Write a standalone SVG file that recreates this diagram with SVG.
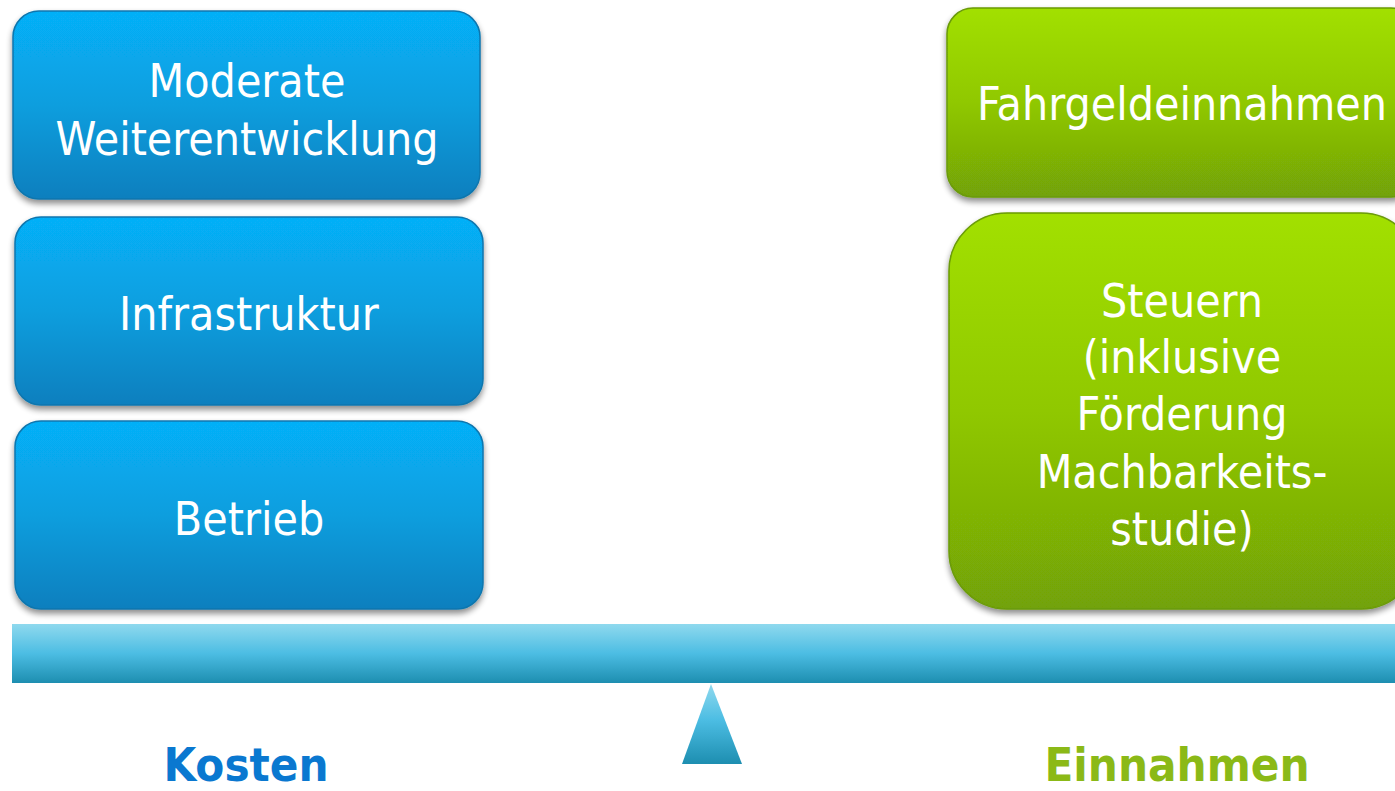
<svg xmlns="http://www.w3.org/2000/svg" width="1395" height="791" viewBox="0 0 1395 791">
<defs>
<linearGradient id="gBlue" x1="0" y1="0" x2="0" y2="1">
<stop offset="0" stop-color="#06b0f8"/>
<stop offset="0.5" stop-color="#089ede"/>
<stop offset="1" stop-color="#087fbe"/>
</linearGradient>
<linearGradient id="gGreen" x1="0" y1="0" x2="0" y2="1">
<stop offset="0" stop-color="#a2e002"/>
<stop offset="0.5" stop-color="#90c805"/>
<stop offset="1" stop-color="#72a207"/>
</linearGradient>
<linearGradient id="gBar" x1="0" y1="0" x2="0" y2="1">
<stop offset="0" stop-color="#8fd9ee"/>
<stop offset="0.5" stop-color="#4cbde3"/>
<stop offset="1" stop-color="#1d8eb0"/>
</linearGradient>
<linearGradient id="gTri" x1="0" y1="0" x2="0" y2="1">
<stop offset="0" stop-color="#8fd9ee"/>
<stop offset="0.45" stop-color="#4cbde3"/>
<stop offset="1" stop-color="#1d8eb0"/>
</linearGradient>
<filter id="sh" x="-10%" y="-10%" width="120%" height="130%">
<feGaussianBlur in="SourceAlpha" stdDeviation="3"/>
<feOffset dx="0" dy="4" result="b"/>
<feComponentTransfer><feFuncA type="linear" slope="0.45"/></feComponentTransfer>
<feMerge><feMergeNode/><feMergeNode in="SourceGraphic"/></feMerge>
</filter>
</defs>
<style>
.blue{fill:url(#gBlue);stroke:#0a76ae;stroke-width:1.5}
.green{fill:url(#gGreen);stroke:#6a9a08;stroke-width:1.5}
.lbl{font-family:"DejaVu Sans Condensed","DejaVu Sans",Verdana,sans-serif;font-size:46px;fill:#ffffff;text-anchor:middle}
.big{font-family:"DejaVu Sans Condensed","DejaVu Sans",Verdana,sans-serif;font-size:47px;font-weight:bold;text-anchor:middle}
</style>
<g id="node-moderate">
<rect class="blue" x="13" y="11" width="467" height="188" rx="26" filter="url(#sh)"/>
<text class="lbl" x="247" y="97">Moderate</text>
<text class="lbl" x="247" y="155">Weiterentwicklung</text>
</g>
<g id="node-infrastruktur">
<rect class="blue" x="15" y="217" width="468" height="188" rx="26" filter="url(#sh)"/>
<text class="lbl" x="249" y="330">Infrastruktur</text>
</g>
<g id="node-betrieb">
<rect class="blue" x="15" y="421" width="468" height="188" rx="26" filter="url(#sh)"/>
<text class="lbl" x="249" y="535">Betrieb</text>
</g>
<g id="node-fahrgeld">
<rect class="green" x="947" y="8" width="470" height="189" rx="26" filter="url(#sh)"/>
<text class="lbl" x="1182" y="120">Fahrgeldeinnahmen</text>
</g>
<g id="node-steuern">
<rect class="green" x="949" y="213" width="470" height="396" rx="58" filter="url(#sh)"/>
<text class="lbl" x="1182" y="317">Steuern</text>
<text class="lbl" x="1182" y="373">(inklusive</text>
<text class="lbl" x="1182" y="430">Förderung</text>
<text class="lbl" x="1182" y="488">Machbarkeits-</text>
<text class="lbl" x="1182" y="545">studie)</text>
</g>
<g id="balance">
<rect x="12" y="624" width="1390" height="59" fill="url(#gBar)"/>
<polygon points="711,684 742,764 682,764" fill="url(#gTri)"/>
</g>
<g id="connectors"></g>
<g id="labels">
<text class="big" x="246" y="781" fill="#0a78d0">Kosten</text>
<text class="big" x="1177" y="781" fill="#8bb917">Einnahmen</text>
</g>
</svg>
